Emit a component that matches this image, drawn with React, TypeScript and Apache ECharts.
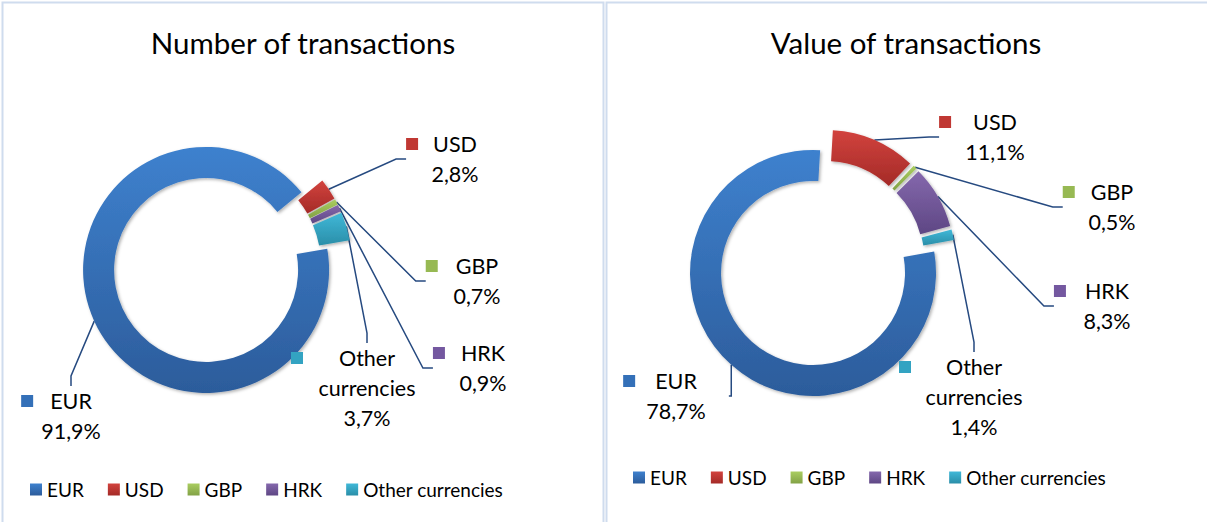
import React, { useEffect, useRef } from "react";
import * as echarts from "echarts";

// ---- data ----
const categories = ["EUR", "USD", "GBP", "HRK", "Other currencies"];
const numberShares = [91.9, 2.8, 0.7, 0.9, 3.7];
const valueShares = [78.7, 11.1, 0.5, 8.3, 1.4];
const chartTitles = ["Number of transactions", "Value of transactions"];

// ---- styling ----
const FONT = "Lato";
const gradTop = ["#3e81ce", "#d2433e", "#aacd60", "#8568ad", "#40b8d8"];
const gradBottom = ["#2c5c9b", "#a42a27", "#82a246", "#5e4784", "#2a8ea8"];
const keyColors = ["#3470b8", "#c03833", "#97b953", "#7458a0", "#33a3c2"];

const START_CW = 80; // first slice angle, degrees clockwise from 12 o'clock
const EXPLODE = 12; // explosion distance, px
const RADIUS = [92, 123];

const grad = (i: number) => ({
  type: "linear",
  x: 0,
  y: 0,
  x2: 0,
  y2: 1,
  colorStops: [
    { offset: 0, color: gradTop[i] },
    { offset: 1, color: gradBottom[i] },
  ],
});

// label block centres (layout only)
const labelPos = [
  [[71, 416], [455, 159], [477, 281], [483, 368], [367, 388]],
  [[676, 396], [995, 137], [1112, 207], [1107, 306], [974, 397]],
];
const keyGap = [
  [17, 15, 18, 16, 36],
  [20, 22, 16, 19, 35],
];

const fmt = (v: number) => v.toFixed(1).replace(".", ",") + "%";

function makeSeries(idx: number, values: number[], trueCenter: number[]) {
  const rich: Record<string, any> = {
    t: { fontFamily: FONT, fontSize: 21.5, color: "#000", lineHeight: 30, align: "center" },
  };
  categories.forEach((_, i) => {
    rich["k" + i] = { width: 12, height: 12, backgroundColor: keyColors[i], align: "center" };
    rich["g" + i] = { width: keyGap[idx][i], height: 12, align: "center" };
    rich["p" + i] = { width: keyGap[idx][i] + 12, height: 12, align: "center" };
  });
  const total = values.reduce((a, b) => a + b, 0);
  let cum = 0;
  return categories.map((name, i) => {
    const mid = START_CW + (360 * (cum + values[i] / 2)) / total;
    cum += values[i];
    const rad = (mid * Math.PI) / 180;
    const center = [
      trueCenter[0] + EXPLODE * Math.sin(rad),
      trueCenter[1] - EXPLODE * Math.cos(rad),
    ];
    return {
      type: "pie",
      center,
      radius: RADIUS,
      startAngle: 90 - START_CW,
      clockwise: true,
      avoidLabelOverlap: false,
      emphasis: { disabled: true },
      data: categories.map((n, j) =>
        j === i
          ? {
              name: n,
              value: values[j],
              itemStyle: {
                color: grad(j),
                shadowBlur: 3,
                shadowColor: "rgba(0,0,0,0.3)",
                shadowOffsetX: 1.5,
                shadowOffsetY: 1.5,
              },
            }
          : {
              name: n + "\u200b",
              value: values[j],
              itemStyle: { color: "transparent", shadowColor: "transparent" },
              label: { show: false },
              labelLine: { show: false },
            }
      ),
      label: {
        show: true,
        position: "outside",
        formatter: (p: any) => {
          const k = p.dataIndex;
          const lines = p.name === "Other currencies" ? ["Other", "currencies"] : [p.name];
          const first = `{k${k}|}{g${k}|}{t|${lines[0]}}{p${k}|}`;
          const rest = lines.slice(1).map((l) => `{t|${l}}`);
          return [first, ...rest, `{t|${fmt(p.value)}}`].join("\n");
        },
        rich,
        fontFamily: FONT,
        fontSize: 21.5,
        lineHeight: 30,
        color: "#000",
      },
      labelLine: {
        show: true,
        length: 14,
        length2: 10,
        lineStyle: { color: "#264a80", width: 1.5 },
      },
      labelLayout: (params: any) => {
        if (params.dataIndex !== i) return {};
        const [x, y] = labelPos[idx][params.dataIndex];
        return { x, y, align: "center", verticalAlign: "middle", hideOverlap: false };
      },
    };
  });
}

export default function App() {
  const ref = useRef<HTMLDivElement>(null);
  useEffect(() => {
    if (!ref.current) return;
    const chart = echarts.init(ref.current, undefined, { renderer: "svg" });
    const legendBase = {
      data: categories.map((name, i) => ({ name, itemStyle: { color: grad(i) } })),
      icon: "rect",
      itemWidth: 12,
      itemHeight: 12,
      itemGap: 24,
      padding: 0,
      selectedMode: false,
      textStyle: { fontFamily: FONT, fontSize: 19, color: "#000" },
    };
    chart.setOption({
      animation: false,
      backgroundColor: "#fff",
      title: chartTitles.map((text, i) => ({
        text,
        left: i === 0 ? 303 : 906,
        top: 27,
        textAlign: "center",
        padding: 0,
        textStyle: { fontFamily: FONT, fontSize: 29.5, fontWeight: "normal", color: "#000" },
      })),
      legend: [
        { ...legendBase, left: 30, top: 480 },
        { ...legendBase, left: 633, top: 468 },
      ],
      graphic: [
        {
          type: "rect",
          shape: { x: 2.5, y: 2.5, width: 601, height: 540 },
          style: { fill: "none", stroke: "#cfdcee", lineWidth: 2 },
          silent: true,
        },
        {
          type: "rect",
          shape: { x: 606.5, y: 2.5, width: 620, height: 540 },
          style: { fill: "none", stroke: "#cfdcee", lineWidth: 2 },
          silent: true,
        },
      ],
      series: [
        ...makeSeries(0, numberShares, [217, 265]),
        ...makeSeries(1, valueShares, [821, 264]),
      ],
    });
    return () => chart.dispose();
  }, []);
  return (
    <div
      ref={ref}
      style={{ position: "absolute", left: 0, top: 0, width: 1207, height: 522 }}
    />
  );
}
